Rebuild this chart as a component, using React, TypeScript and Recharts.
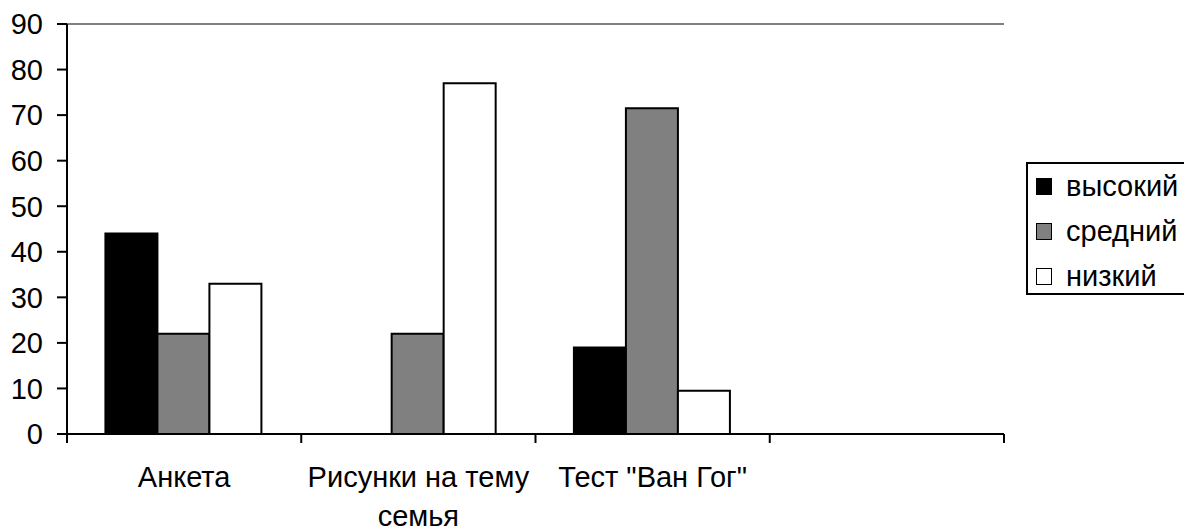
import { BarChart, Bar, XAxis, YAxis, CartesianGrid, ReferenceLine } from 'recharts';

const categories = ['Анкета', 'Рисунки на тему\nсемья', 'Тест "Ван Гог"', ''];
const vysokiy = [44, 0, 19, null];
const sredniy = [22, 22, 71.5, null];
const nizkiy = [33, 77, 9.5, null];
const yTicks = [0, 10, 20, 30, 40, 50, 60, 70, 80, 90];

const series = [
  { key: 'vysokiy', name: 'высокий', color: '#000000' },
  { key: 'sredniy', name: 'средний', color: '#808080' },
  { key: 'nizkiy', name: 'низкий', color: '#ffffff' },
];

const data = categories.map((name, i) => ({
  name,
  vysokiy: vysokiy[i],
  sredniy: sredniy[i],
  nizkiy: nizkiy[i],
}));

const FONT = '"Liberation Sans", Arial, sans-serif';
const WIDTH = 1184;
const HEIGHT = 528;
const MARGIN = { top: 24, right: 180, left: 0, bottom: 0 };
const Y_AXIS_W = 67;
const BAND = (WIDTH - MARGIN.right - MARGIN.left - Y_AXIS_W) / categories.length;

// category ticks sit on the band edges, labels in the middle
function CategoryTick(props: any) {
  const { x, y, payload, index } = props;
  const half = payload?.offset || BAND / 2;
  const lines = String(payload.value).split('\n');
  return (
    <g>
      <line x1={x - half} x2={x - half} y1={y} y2={y + 9} stroke="#000" strokeWidth={2} />
      {index === categories.length - 1 && (
        <line x1={x + half} x2={x + half} y1={y} y2={y + 9} stroke="#000" strokeWidth={2} />
      )}
      <text x={x} y={y + 53} textAnchor="middle" fill="#000" style={{ fontFamily: FONT, fontSize: 29 }}>
        {lines.map((line, i) => (
          <tspan key={i} x={x} dy={i === 0 ? 0 : 39}>
            {line}
          </tspan>
        ))}
      </text>
    </g>
  );
}

function LegendBox() {
  return (
    <div
      style={{
        position: 'absolute',
        left: 1026,
        top: 162,
        boxSizing: 'border-box',
        width: WIDTH - 1026,
        height: 133,
        border: '2px solid #000',
        borderRight: 'none',
        fontFamily: FONT,
        fontSize: 29,
        color: '#000',
      }}
    >
      {series.map((s) => (
        <div key={s.key} style={{ display: 'flex', alignItems: 'center', height: 45, paddingLeft: 8 }}>
          <span
            style={{
              boxSizing: 'border-box',
              display: 'inline-block',
              width: 16,
              height: 17,
              background: s.color,
              border: '1.5px solid #000',
              marginRight: 14,
            }}
          />
          <span>{s.name}</span>
        </div>
      ))}
    </div>
  );
}

export default function App() {
  return (
    <div style={{ position: 'absolute', left: 0, top: 0, width: WIDTH, height: HEIGHT, background: '#fff' }}>
      <BarChart
        width={WIDTH}
        height={HEIGHT}
        data={data}
        margin={MARGIN}
        barCategoryGap="16.4%"
        barGap={0}
      >
        <CartesianGrid vertical={false} stroke="#000" strokeWidth={2} />
        <XAxis
          dataKey="name"
          height={94}
          axisLine={{ stroke: '#000', strokeWidth: 2 }}
          tickLine={false}
          tickSize={0}
          tickMargin={0}
          interval={0}
          tick={<CategoryTick />}
        />
        <YAxis
          yAxisId="left"
          width={Y_AXIS_W}
          domain={[0, 90]}
          ticks={yTicks}
          interval={0}
          axisLine={{ stroke: '#000', strokeWidth: 2 }}
          tickLine={{ stroke: '#000', strokeWidth: 2 }}
          tickSize={10}
          tickMargin={14}
          tick={{ fill: '#000', fontSize: 29, fontFamily: FONT }}
        />
        <YAxis
          yAxisId="right"
          orientation="right"
          width={0}
          domain={[0, 90]}
          tick={false}
          tickLine={false}
          axisLine={{ stroke: '#808080', strokeWidth: 2 }}
        />
        <ReferenceLine yAxisId="left" y={90} stroke="#808080" strokeWidth={2} />
        {series.map((s) => (
          <Bar
            key={s.key}
            yAxisId="left"
            dataKey={s.key}
            name={s.name}
            fill={s.color}
            stroke="#000"
            strokeWidth={2}
            isAnimationActive={false}
          />
        ))}
      </BarChart>
      <LegendBox />
    </div>
  );
}
